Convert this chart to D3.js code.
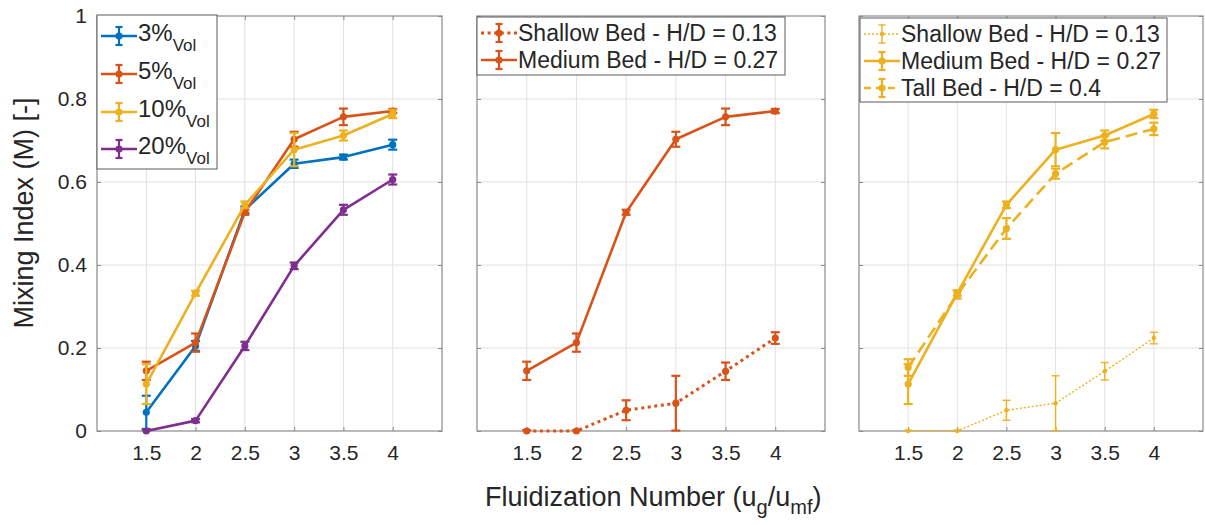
<!DOCTYPE html>
<html>
<head>
<meta charset="utf-8">
<script src="https://cdn.jsdelivr.net/npm/d3@7"></script>
<style>
  html, body { margin: 0; padding: 0; background: #ffffff; }
  svg { display: block; font-family: "Liberation Sans", Arial, Helvetica, sans-serif; }
</style>
</head>
<body>
<svg id="chart" width="1205" height="525"></svg>
<script>
// Fluidization numbers (u_g / u_mf) shared by every panel
const fluidization = [1.5, 2, 2.5, 3, 3.5, 4];
const xTickValues = [1.5, 2, 2.5, 3, 3.5, 4];
const xTickLabels = ["1.5", "2", "2.5", "3", "3.5", "4"];
const yTickValues = [0, 0.2, 0.4, 0.6, 0.8, 1];
const yTickLabels = ["0", "0.2", "0.4", "0.6", "0.8", "1"];

// Mixing index by tracer volume fraction (medium bed)
const mix3 = [0.045, 0.205, 0.533, 0.644, 0.660, 0.690];
const err3 = [0.040, 0.012, 0.008, 0.010, 0.006, 0.012];
const mix5 = [0.145, 0.213, 0.527, 0.703, 0.757, 0.771];
const err5 = [0.022, 0.022, 0.006, 0.018, 0.020, 0.005];
const mix10 = [0.113, 0.332, 0.545, 0.678, 0.712, 0.764];
const err10 = [0.048, 0.006, 0.008, 0.040, 0.012, 0.010];
const mix20 = [0.000, 0.025, 0.205, 0.398, 0.533, 0.606];
const err20 = [0.002, 0.004, 0.010, 0.008, 0.012, 0.012];

// Mixing index by bed height
const shallowBed = [0.000, 0.000, 0.050, 0.067, 0.144, 0.224];
const shallowErr = [0.002, 0.002, 0.024, 0.066, 0.021, 0.014];
const tallBed = [0.153, 0.329, 0.488, 0.620, 0.696, 0.728];
const tallErr = [0.020, 0.010, 0.025, 0.012, 0.015, 0.015];

const C_BLUE = "#0072BD", C_ORANGE = "#D95319", C_YELLOW = "#EDB120", C_PURPLE = "#7E2F8E";
const TEXT = "#262626";

const svg = d3.select("#chart");
const plotTop = 16, plotBottom = 431;
const y = d3.scaleLinear().domain([0, 1]).range([plotBottom, plotTop]);

const solid = { dash: null, legendDash: null, width: 2.6, r: 3.6, cap: 4.5, ew: 2.2 };
const dotted = { dash: "3,3.6", legendDash: "3,3.6", width: 3, r: 3.6, cap: 4.5, ew: 2.2 };
const thinDotted = { dash: "2,2", legendDash: "2,2", width: 1.4, r: 2.2, cap: 4, ew: 1.4 };
const dashed = { dash: "12,6", legendDash: "7,5", width: 2.6, r: 3.6, cap: 4.5, ew: 2.2 };

const panels = [
  {
    x0: 97, x1: 442, yLabels: true,
    series: [
      { v: mix3, e: err3, color: C_BLUE, style: solid, label: "3%", sub: "Vol" },
      { v: mix5, e: err5, color: C_ORANGE, style: solid, label: "5%", sub: "Vol" },
      { v: mix10, e: err10, color: C_YELLOW, style: solid, label: "10%", sub: "Vol" },
      { v: mix20, e: err20, color: C_PURPLE, style: solid, label: "20%", sub: "Vol" }
    ],
    legend: { x: 97, y: 15, w: 120, h: 154, rows: [36, 74, 112, 149], fs: 24, base: 5 }
  },
  {
    x0: 477, x1: 825, yLabels: false,
    series: [
      { v: shallowBed, e: shallowErr, color: C_ORANGE, style: dotted, label: "Shallow Bed - H/D = 0.13" },
      { v: mix5, e: err5, color: C_ORANGE, style: solid, label: "Medium Bed - H/D = 0.27" }
    ],
    legend: { x: 477, y: 17, w: 308, h: 58, rows: [33, 60], fs: 23, base: 8 }
  },
  {
    x0: 859, x1: 1203, yLabels: false,
    series: [
      { v: shallowBed, e: shallowErr, color: C_YELLOW, style: thinDotted, label: "Shallow Bed - H/D = 0.13" },
      { v: mix10, e: err10, color: C_YELLOW, style: solid, label: "Medium Bed - H/D = 0.27" },
      { v: tallBed, e: tallErr, color: C_YELLOW, style: dashed, label: "Tall Bed - H/D = 0.4" }
    ],
    legend: { x: 860, y: 18, w: 307, h: 84, rows: [34, 61, 88], fs: 23, base: 8 }
  }
];

function drawPanel(p) {
  const x = d3.scaleLinear().domain([1, 4.5]).range([p.x0, p.x1]);
  const g = svg.append("g");

  // grid
  g.append("g").selectAll("line").data(xTickValues).join("line")
    .attr("x1", d => x(d)).attr("x2", d => x(d))
    .attr("y1", plotTop).attr("y2", plotBottom)
    .attr("stroke", "#e1e1e1").attr("stroke-width", 1);
  g.append("g").selectAll("line").data(yTickValues.filter(d => d > 0 && d < 1)).join("line")
    .attr("x1", p.x0).attr("x2", p.x1)
    .attr("y1", d => y(d)).attr("y2", d => y(d))
    .attr("stroke", "#e1e1e1").attr("stroke-width", 1);

  // axes (inward ticks on all four sides)
  const axisStyle = sel => {
    sel.select(".domain").remove();
    sel.selectAll(".tick line").attr("stroke", "#8a8a8a");
    sel.selectAll(".tick text").attr("fill", TEXT).attr("font-size", 21)
      .attr("font-family", '"Liberation Sans", Arial, sans-serif');
  };
  g.append("g").attr("transform", `translate(0,${plotBottom})`)
    .call(d3.axisBottom(x).tickValues(xTickValues).tickFormat((d, i) => xTickLabels[i]).tickSizeInner(-4).tickPadding(14))
    .call(axisStyle);
  g.append("g").attr("transform", `translate(0,${plotTop})`)
    .call(d3.axisTop(x).tickValues(xTickValues).tickFormat("").tickSizeInner(-4))
    .call(axisStyle);
  g.append("g").attr("transform", `translate(${p.x0},0)`)
    .call(d3.axisLeft(y).tickValues(yTickValues).tickFormat((d, i) => p.yLabels ? yTickLabels[i] : "").tickSizeInner(-4).tickPadding(10))
    .call(axisStyle);
  g.append("g").attr("transform", `translate(${p.x1},0)`)
    .call(d3.axisRight(y).tickValues(yTickValues).tickFormat("").tickSizeInner(-4))
    .call(axisStyle);

  g.append("rect").attr("x", p.x0).attr("y", plotTop)
    .attr("width", p.x1 - p.x0).attr("height", plotBottom - plotTop)
    .attr("fill", "none").attr("stroke", "#8a8a8a").attr("stroke-width", 1.2);

  // series: line, error bars, markers
  const line = d3.line().x((d, i) => x(fluidization[i])).y(d => y(d));
  p.series.forEach(s => {
    const sg = g.append("g");
    sg.append("path").datum(s.v).attr("d", line)
      .attr("fill", "none").attr("stroke", s.color)
      .attr("stroke-width", s.style.width)
      .attr("stroke-dasharray", s.style.dash)
      .attr("stroke-linejoin", "round");
    const pts = s.v.map((v, i) => ({ x: fluidization[i], v, e: s.e[i] }));
    const eb = sg.append("g").attr("stroke", s.color).attr("stroke-width", s.style.ew);
    eb.append("g").selectAll("line").data(pts).join("line")
      .attr("x1", d => x(d.x)).attr("x2", d => x(d.x))
      .attr("y1", d => y(Math.max(0, d.v - d.e))).attr("y2", d => y(d.v + d.e));
    eb.append("g").selectAll("line").data(pts).join("line")
      .attr("x1", d => x(d.x) - s.style.cap).attr("x2", d => x(d.x) + s.style.cap)
      .attr("y1", d => y(d.v + d.e)).attr("y2", d => y(d.v + d.e));
    eb.append("g").selectAll("line").data(pts.filter(d => d.v - d.e >= 0)).join("line")
      .attr("x1", d => x(d.x) - s.style.cap).attr("x2", d => x(d.x) + s.style.cap)
      .attr("y1", d => y(d.v - d.e)).attr("y2", d => y(d.v - d.e));
    sg.append("g").selectAll("circle").data(pts).join("circle")
      .attr("cx", d => x(d.x)).attr("cy", d => y(d.v)).attr("r", s.style.r)
      .attr("fill", s.color);
  });

  // legend
  const L = p.legend;
  const lg = g.append("g");
  lg.append("rect").attr("x", L.x).attr("y", L.y).attr("width", L.w).attr("height", L.h)
    .attr("fill", "#ffffff").attr("stroke", "#5a5a5a").attr("stroke-width", 1);
  p.series.forEach((s, i) => {
    const cy = L.rows[i];
    const sx0 = L.x + 4, sx1 = L.x + 40, mx = (sx0 + sx1) / 2;
    const row = lg.append("g").attr("stroke", s.color);
    row.append("line").attr("x1", sx0).attr("x2", sx1).attr("y1", cy).attr("y2", cy)
      .attr("stroke-width", s.style.width).attr("stroke-dasharray", s.style.legendDash);
    row.append("line").attr("x1", mx).attr("x2", mx).attr("y1", cy - 9).attr("y2", cy + 9)
      .attr("stroke-width", s.style.ew);
    row.append("line").attr("x1", mx - 3.5).attr("x2", mx + 3.5).attr("y1", cy - 9).attr("y2", cy - 9)
      .attr("stroke-width", s.style.ew);
    row.append("line").attr("x1", mx - 3.5).attr("x2", mx + 3.5).attr("y1", cy + 9).attr("y2", cy + 9)
      .attr("stroke-width", s.style.ew);
    row.append("circle").attr("cx", mx).attr("cy", cy).attr("r", s.style.r)
      .attr("fill", s.color).attr("stroke", "none");
    const t = lg.append("text").attr("x", sx1 + 1).attr("y", cy + L.base)
      .attr("fill", TEXT).attr("font-size", L.fs).text(s.label);
    if (s.sub) {
      t.append("tspan").attr("dy", 10).attr("font-size", 17).text(s.sub);
    }
  });
}

panels.forEach(drawPanel);

// axis titles
svg.append("text")
  .attr("transform", "translate(33,213) rotate(-90)")
  .attr("text-anchor", "middle").attr("fill", TEXT).attr("font-size", 27)
  .text("Mixing Index (M) [-]");

const xt = svg.append("text").attr("x", 485).attr("y", 506)
  .attr("fill", TEXT).attr("font-size", 27);
xt.append("tspan").text("Fluidization Number (u");
xt.append("tspan").attr("dy", 8).attr("font-size", 20).text("g");
xt.append("tspan").attr("dy", -8).text("/u");
xt.append("tspan").attr("dy", 8).attr("font-size", 20).text("mf");
xt.append("tspan").attr("dy", -8).text(")");
</script>
</body>
</html>
